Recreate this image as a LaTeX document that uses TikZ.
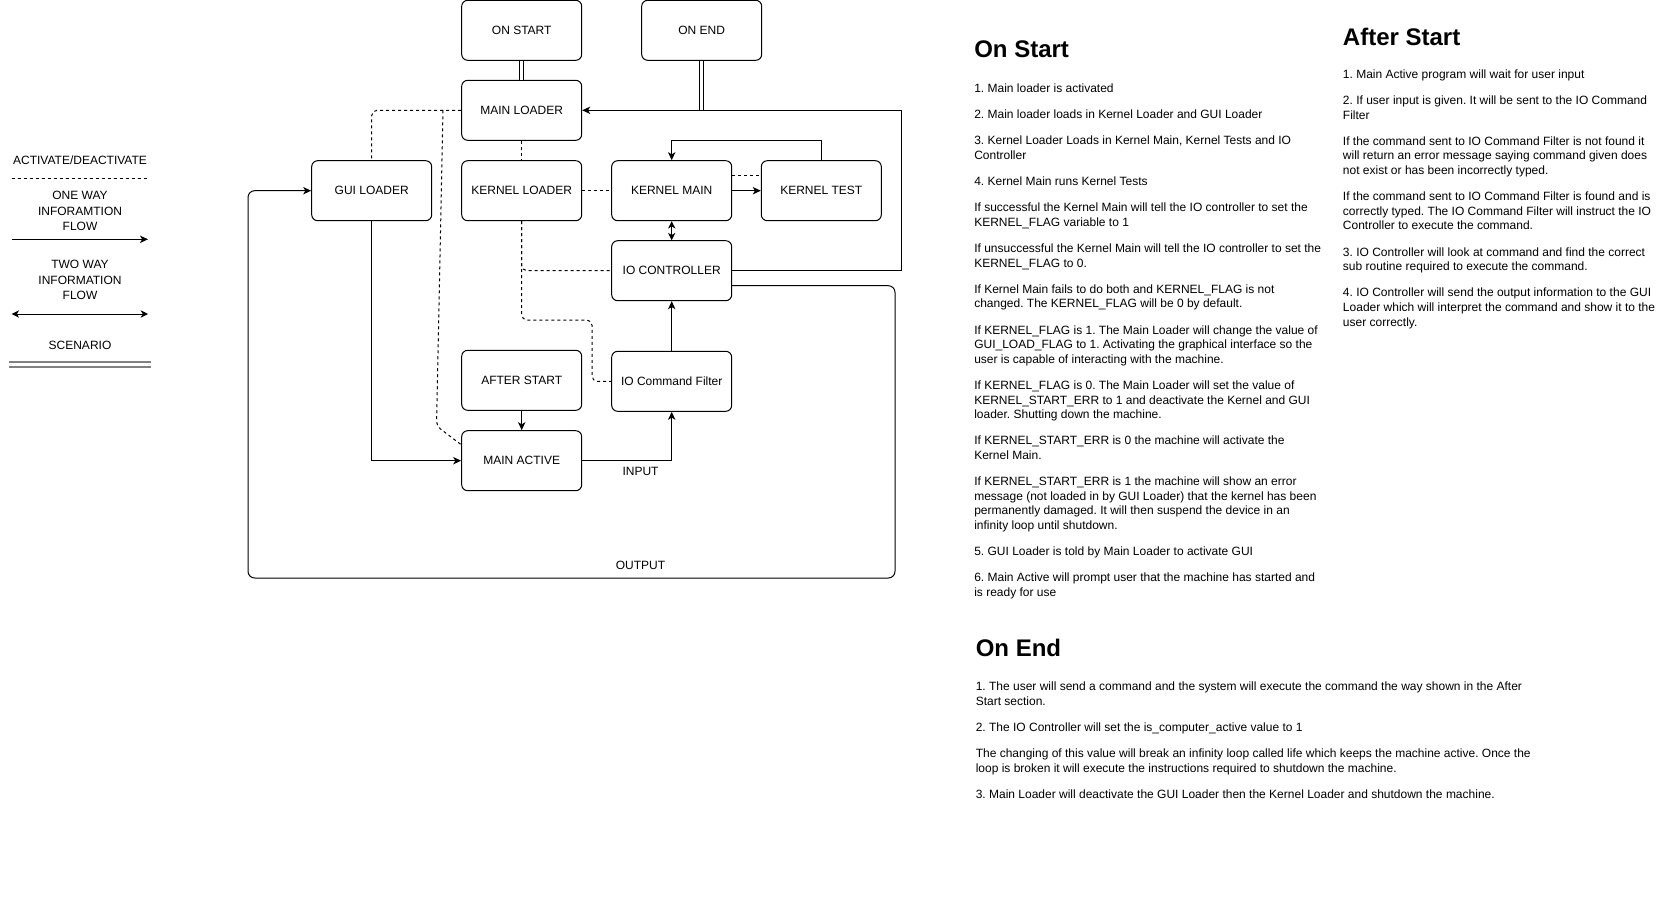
\documentclass[tikz,border=0pt]{standalone}
\usepackage{fontspec}
\setmainfont{Liberation Sans}
\frenchspacing
\usetikzlibrary{arrows.meta,calc,positioning}
\definecolor{ScenarioClr}{rgb}{0.5,0.5,0.5}

\tikzset{
  box/.style={draw,line width=.75pt,rounded corners=4.5pt,minimum width=90pt,minimum height=45pt,inner sep=0pt,font=\fontsize{9}{11}\selectfont},
  lbl/.style={inner sep=0pt,font=\fontsize{9}{11.5}\selectfont,align=center},
  flow/.style={line width=.75pt,-{Stealth[length=6pt,width=5.5pt,inset=1.6pt]}},
  twoway/.style={line width=.75pt,{Stealth[length=5.5pt,width=5.5pt,inset=1.6pt]}-{Stealth[length=5.5pt,width=5.5pt,inset=1.6pt]}},
  activate/.style={line width=.75pt,dash pattern=on 2.25pt off 2.25pt},
  scenario/.style={line width=.75pt,double,double distance=2.25pt},
  heading/.style={anchor=base west,inner sep=0pt,font=\fontsize{18}{22}\selectfont\bfseries},
  para/.style={anchor=base west,inner sep=0pt,align=left,font=\fontsize{9}{10.95}\selectfont}
}

\begin{document}
\begin{tikzpicture}[x=.75pt,y=-.75pt]
\path[use as bounding box,fill=white] (0,0) rectangle (1663,896);

\node[lbl] (legact) at (80,160.7) {ACTIVATE/DEACTIVATE};
\node[lbl] (legone) at (80,211) {ONE WAY\\INFORAMTION\\FLOW};
\node[lbl] (legtwo) at (80,280) {TWO WAY\\INFORMATION\\FLOW};
\node[lbl] (legscn) at (80,345) {SCENARIO};
\coordinate (actL) at (11.7,178.3); \coordinate (actR) at (146.7,178.3);
\coordinate (oneL) at (11.7,239.3); \coordinate (oneR) at (148,239.3);
\coordinate (twoL) at (11.7,314); \coordinate (twoR) at (148,314);
\coordinate (scnL) at (9,364.7); \coordinate (scnR) at (150.7,364.7);
\draw[activate] (actL) -- (actR);
\draw[flow] (oneL) -- (oneR);
\draw[twoway] (twoL) -- (twoR);
\draw[line width=1.2pt,double=white,double distance=2.6pt,ScenarioClr] (scnL) -- (scnR);

\node[box] (onstart) at (521.7,30.3) {ON START};
\node[box] (onend) at (701.7,30.3) {ON END};
\node[box] (mainloader) at (521.7,110.3) {MAIN LOADER};
\node[box] (guiloader) at (371.7,190.7) {GUI LOADER};
\node[box] (kernelloader) at (521.7,190.7) {KERNEL LOADER};
\node[box] (kernelmain) at (671.7,190.7) {KERNEL MAIN};
\node[box] (kerneltest) at (821.3,190.7) {KERNEL TEST};
\node[box] (ioctrl) at (671.7,270.7) {IO CONTROLLER};
\node[box] (afterstart) at (521.7,380.3) {AFTER START};
\node[box] (iofilter) at (671.7,381.3) {IO Command Filter};
\node[box] (mainactive) at (521.7,460.7) {MAIN ACTIVE};

\node[lbl] (input) at (640.5,471.5) {INPUT};
\node[lbl] (output) at (640.5,565) {OUTPUT};

\coordinate (backbone) at (901,110.3);
\coordinate (guibranch) at (443,110.3);
\coordinate (guibend) at (436.5,426);
\coordinate (filterturn) at (592,320);
\coordinate (outdown) at (895,578);
\coordinate (outup) at (248,190.7);

\draw[scenario] (onstart) -- (mainloader);
\draw[flow] (ioctrl.east) -| (backbone) -- (mainloader.east);
\draw[scenario] (onend) -- (onend |- backbone);

\draw[activate,rounded corners=4pt] (mainloader.west) -| (guiloader.north);
\draw[activate,rounded corners=4pt] (guibranch) -- (guibend) -- ($(mainactive.west)+(0,-16)$);
\draw[activate] (mainloader) -- (kernelloader);
\draw[activate] (kernelloader) -- (kernelmain);
\draw[activate] ([yshift=11.7pt]kernelmain.east) -- ([yshift=11.7pt]kerneltest.west);
\draw[activate,rounded corners=4pt] (kernelloader.south) |- (ioctrl.west);
\draw[activate,rounded corners=4pt] (kernelloader.south) |- (filterturn) |- (iofilter.west);

\draw[flow] (kernelmain) -- (kerneltest);
\draw[flow] (kerneltest.north) -- ++(0,-20) -| (kernelmain.north);
\draw[twoway] (kernelmain) -- (ioctrl);
\draw[flow] (iofilter) -- (ioctrl);
\draw[flow] (afterstart) -- (mainactive);
\draw[flow] (guiloader.south) |- (mainactive.west);
\draw[flow] (mainactive.east) -| (iofilter.south);
\draw[flow,rounded corners=5pt] ([yshift=-11.25pt]ioctrl.east) -| (outdown) -| (outup) -- (guiloader.west);

\node[heading] (onstarttitle) at (974,57.5) {On Start};
\node[para] (onstarttext) at (974,596.5) {1. Main loader is activated\\[8.7pt]
2. Main loader loads in Kernel Loader and GUI Loader\\[8.7pt]
3. Kernel Loader Loads in Kernel Main, Kernel Tests and IO\\Controller\\[8.7pt]
4. Kernel Main runs Kernel Tests\\[8.7pt]
If successful the Kernel Main will tell the IO controller to set the\\KERNEL\_FLAG variable to 1\\[8.7pt]
If unsuccessful the Kernel Main will tell the IO controller to set the\\KERNEL\_FLAG to 0.\\[8.7pt]
If Kernel Main fails to do both and KERNEL\_FLAG is not\\changed. The KERNEL\_FLAG will be 0 by default.\\[8.7pt]
If KERNEL\_FLAG is 1. The Main Loader will change the value of\\GUI\_LOAD\_FLAG to 1. Activating the graphical interface so the\\user is capable of interacting with the machine.\\[8.7pt]
If KERNEL\_FLAG is 0. The Main Loader will set the value of\\KERNEL\_START\_ERR to 1 and deactivate the Kernel and GUI\\loader. Shutting down the machine.\\[8.7pt]
If KERNEL\_START\_ERR is 0 the machine will activate the\\Kernel Main.\\[8.7pt]
If KERNEL\_START\_ERR is 1 the machine will show an error\\message (not loaded in by GUI Loader) that the kernel has been\\permanently damaged. It will then suspend the device in an\\infinity loop until shutdown.\\[8.7pt]
5. GUI Loader is told by Main Loader to activate GUI\\[8.7pt]
6. Main Active will prompt user that the machine has started and\\is ready for use};

\node[heading] (afterstarttitle) at (1342.7,45) {After Start};
\node[para] (afterstarttext) at (1342.7,326) {1. Main Active program will wait for user input\\[8.7pt]
2. If user input is given. It will be sent to the IO Command\\Filter\\[8.7pt]
If the command sent to IO Command Filter is not found it\\will return an error message saying command given does\\not exist or has been incorrectly typed.\\[8.7pt]
If the command sent to IO Command Filter is found and is\\correctly typed. The IO Command Filter will instruct the IO\\Controller to execute the command.\\[8.7pt]
3. IO Controller will look at command and find the correct\\sub routine required to execute the command.\\[8.7pt]
4. IO Controller will send the output information to the GUI\\Loader which will interpret the command and show it to the\\user correctly.};

\node[heading] (onendtitle) at (975.5,656.5) {On End};
\node[para] (onendtext) at (975.5,798.5) {1. The user will send a command and the system will execute the command the way shown in the After\\Start section.\\[8.7pt]
2. The IO Controller will set the is\_computer\_active value to 1\\[8.7pt]
The changing of this value will break an infinity loop called life which keeps the machine active. Once the\\loop is broken it will execute the instructions required to shutdown the machine.\\[8.7pt]
3. Main Loader will deactivate the GUI Loader then the Kernel Loader and shutdown the machine.};

\end{tikzpicture}
\end{document}
